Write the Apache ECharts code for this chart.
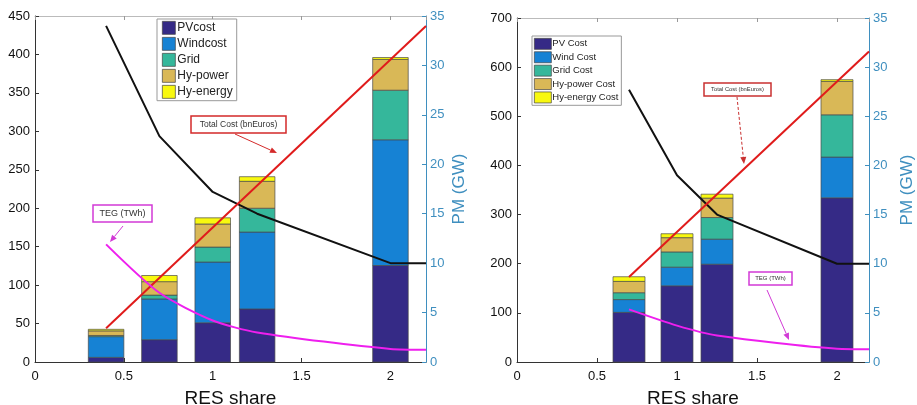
<!DOCTYPE html>
<html><head><meta charset="utf-8">
<script src="https://cdn.jsdelivr.net/npm/echarts@6/dist/echarts.min.js"></script>
<style>html,body{margin:0;padding:0;background:#fff}#c{width:917px;height:405px}</style>
</head><body><div id="c"></div>
<script>
// ---- Left panel data ----
const barX1 = [0.4, 0.7, 1.0, 1.25, 2.0];
const pvCost1 = [6, 29, 51, 69, 125.5];
const windCost1 = [27, 53, 79, 100, 163.5];
const gridCost1 = [1.5, 5, 19.5, 31, 64.5];
const hyPower1 = [6, 17.5, 30, 35, 40];
const hyEnergy1 = [2, 8, 8, 6, 2.5];
const pmX1 = [0.4, 0.7, 1.0, 1.25, 2.0, 2.2];
const pm1 = [34, 22.85, 17.2, 15, 10, 10];
const costX1 = [0.4, 2.2];
const totalCost1 = [44, 437];
const tegX1 = [0.4, 0.7, 1.0, 1.25, 2.0, 2.2];
const teg1 = [153, 90, 54, 38.5, 17, 16];
const names1 = ['PVcost', 'Windcost', 'Grid', 'Hy-power', 'Hy-energy'];

// ---- Right panel data ----
const barX2 = [0.7, 1.0, 1.25, 2.0];
const pvCost2 = [101, 155, 199, 334];
const windCost2 = [26, 38, 51, 83];
const gridCost2 = [14, 31, 44, 86];
const hyPower2 = [23, 29, 39.5, 68];
const hyEnergy2 = [9.5, 8, 8, 3.5];
const pmX2 = [0.7, 1.0, 1.25, 2.0, 2.2];
const pm2 = [27.7, 19, 15, 10, 10];
const costX2 = [0.7, 2.2];
const totalCost2 = [173, 632];
const tegX2 = [0.7, 1.0, 1.25, 2.0, 2.2];
const teg2 = [107, 74, 54, 27, 26];
const names2 = ['PV Cost', 'Wind Cost', 'Grid Cost', 'Hy-power Cost', 'Hy-energy Cost'];

const BAR_W = 0.2; // bar width in RES-share units
const colors = ['#352a86', '#1682d4', '#35b79b', '#d9b857', '#f8f80f'];
const axisBlue = '#3f8fbf';
const FONT = 'Liberation Sans, Arial, Helvetica, sans-serif';

const zip = (xs, ys) => xs.map((x, i) => [x, ys[i]]);

// stacked bars as custom series: each segment [x, base, top] mapped through the axes
function barSeries(names, arrays, xs, xi, yi) {
  const base = xs.map(() => 0);
  return arrays.map((arr, k) => {
    const data = xs.map((x, i) => { const b = base[i]; base[i] += arr[i]; return [x, b, base[i]]; });
    return {
      type: 'custom', name: names[k], xAxisIndex: xi, yAxisIndex: yi,
      itemStyle: { color: colors[k], borderColor: '#4a4a4a', borderWidth: 0.7 },
      encode: { x: 0, y: [1, 2] }, data: data, z: 2, silent: true,
      renderItem: function (params, api) {
        const x = api.value(0), b = api.value(1), t = api.value(2);
        const p0 = api.coord([x, b]), p1 = api.coord([x, t]);
        const w = api.size([BAR_W, 0])[0];
        return { type: 'rect',
          shape: { x: p0[0] - w / 2, y: p1[1], width: w, height: p0[1] - p1[1] },
          style: { fill: colors[k], stroke: '#4a4a4a', lineWidth: 0.7 } };
      }
    };
  });
}
function lineSeries(xs, ys, xi, yi, color, smooth) {
  return { type: 'line', xAxisIndex: xi, yAxisIndex: yi, data: zip(xs, ys), symbol: 'none',
    smooth: smooth || false, lineStyle: { color: color, width: 2 }, z: 5, emphasis: { disabled: true } };
}
function xAx(gi) {
  return { type: 'value', gridIndex: gi, min: 0, max: 2.2, interval: 0.5,
    name: 'RES share', nameLocation: 'middle', nameGap: 27,
    nameTextStyle: { fontSize: 19, color: '#111', fontFamily: FONT },
    axisLine: { onZero: false, lineStyle: { color: '#333', width: 1 } },
    axisTick: { inside: true, length: 4, lineStyle: { color: '#333' } },
    axisLabel: { fontSize: 13, color: '#111', margin: 8, fontFamily: FONT, showMaxLabel: false },
    splitLine: { show: false } };
}
function xTop(gi) {
  return { type: 'value', gridIndex: gi, position: 'top', min: 0, max: 2.2, interval: 0.5,
    axisLine: { onZero: false, lineStyle: { color: '#bbb', width: 1 } },
    axisTick: { inside: true, length: 4, lineStyle: { color: '#999' } },
    axisLabel: { show: false }, splitLine: { show: false } };
}
function yLeft(gi, max, interval) {
  return { type: 'value', gridIndex: gi, min: 0, max: max, interval: interval, position: 'left',
    axisLine: { show: true, onZero: false, lineStyle: { color: '#333', width: 1 } },
    axisTick: { show: true, inside: true, length: 4, lineStyle: { color: '#333' } },
    axisLabel: { fontSize: 13, color: '#111', margin: 5, fontFamily: FONT },
    splitLine: { show: false } };
}
function yRight(gi, gap) {
  return { type: 'value', gridIndex: gi, min: 0, max: 35, interval: 5, position: 'right',
    name: 'PM (GW)', nameLocation: 'middle', nameRotate: 90, nameGap: gap,
    nameTextStyle: { fontSize: 17, color: axisBlue, fontFamily: FONT },
    axisLine: { show: true, onZero: false, lineStyle: { color: axisBlue, width: 1 } },
    axisTick: { show: true, inside: true, length: 4, lineStyle: { color: axisBlue } },
    axisLabel: { fontSize: 13, color: axisBlue, margin: 4, fontFamily: FONT },
    splitLine: { show: false } };
}

function arrow(x1, y1, x2, y2, color, dash) {
  const a = Math.atan2(y2 - y1, x2 - x1), c = Math.cos(a), s = Math.sin(a);
  const L = 7, W = 3;
  const bx = x2 - L * c, by = y2 - L * s;
  return [
    { type: 'line', shape: { x1: x1, y1: y1, x2: bx, y2: by },
      style: { stroke: color, lineWidth: 1, lineDash: dash ? [3, 2] : null }, z: 20 },
    { type: 'polygon', shape: { points: [[x2, y2], [bx - s * W, by + c * W], [bx + s * W, by - c * W]] },
      style: { fill: color }, z: 20 }
  ];
}
function box(x, y, w, h, color, text, fs) {
  return [
    { type: 'rect', shape: { x: x, y: y, width: w, height: h },
      style: { fill: '#fff', stroke: color, lineWidth: 1.5 }, z: 20 },
    { type: 'text', x: x + w / 2, y: y + h / 2, z: 21,
      style: { text: text, fill: '#333', font: fs + 'px ' + FONT, align: 'center', verticalAlign: 'middle' } }
  ];
}

const chart = echarts.init(document.getElementById('c'), null, { renderer: 'canvas' });
const option = {
  animation: false,
  backgroundColor: '#fff',
  grid: [
    { left: 35, top: 16, width: 391, height: 346, outerBoundsMode: 'none', containLabel: false },
    { left: 517, top: 18, width: 352, height: 344, outerBoundsMode: 'none', containLabel: false }
  ],
  xAxis: [xAx(0), xAx(1), xTop(0), xTop(1)],
  yAxis: [yLeft(0, 450, 50), yRight(0, 25), yLeft(1, 700, 100), yRight(1, 30)],
  legend: [
    { data: names1, orient: 'vertical', left: 157, top: 19, itemWidth: 13, itemHeight: 13, itemGap: 2.3,
      icon: 'rect', backgroundColor: '#fff', borderColor: '#999', borderWidth: 1, padding: [2, 4, 2, 5],
      itemStyle: { borderColor: '#444', borderWidth: 0.7 },
      textStyle: { fontSize: 12, lineHeight: 13, color: '#222', fontFamily: FONT, padding: [0, 0, 0, -3] }, selectedMode: false },
    { data: names2, orient: 'vertical', left: 532, top: 36, itemWidth: 17, itemHeight: 11, itemGap: 1.7,
      icon: 'rect', backgroundColor: '#fff', borderColor: '#999', borderWidth: 1, padding: [2, 3, 2, 2],
      itemStyle: { borderColor: '#444', borderWidth: 0.7 },
      textStyle: { fontSize: 9.5, lineHeight: 11, color: '#222', fontFamily: FONT, padding: [0, 0, 0, -4] }, selectedMode: false }
  ],
  series: [].concat(
    barSeries(names1, [pvCost1, windCost1, gridCost1, hyPower1, hyEnergy1], barX1, 0, 0),
    barSeries(names2, [pvCost2, windCost2, gridCost2, hyPower2, hyEnergy2], barX2, 1, 2),
    [
      lineSeries(pmX1, pm1, 0, 1, '#111'),
      lineSeries(costX1, totalCost1, 0, 0, '#e01b1b'),
      lineSeries(tegX1, teg1, 0, 0, '#ee1fee', 0.25),
      lineSeries(pmX2, pm2, 1, 3, '#111'),
      lineSeries(costX2, totalCost2, 1, 2, '#e01b1b'),
      lineSeries(tegX2, teg2, 1, 2, '#ee1fee', 0.25)
    ]
  ),
  graphic: [].concat(
    box(191, 116, 95, 17, '#d42a2a', 'Total Cost (bnEuros)', 8.5),
    arrow(235, 134, 277, 153, '#d42a2a', false),
    box(93, 205, 59, 17, '#d23ad6', 'TEG (TWh)', 9),
    arrow(123, 226, 110, 242, '#d23ad6', false),
    box(704, 83, 67, 13, '#c93030', 'Total Cost (bnEuros)', 5.8),
    arrow(737, 97, 744, 164, '#c93030', true),
    box(749, 272, 43, 13, '#d23ad6', 'TEG (TWh)', 6),
    arrow(767, 290, 789, 340, '#d23ad6', false)
  )
};
chart.setOption(option);
</script>
</body></html>
